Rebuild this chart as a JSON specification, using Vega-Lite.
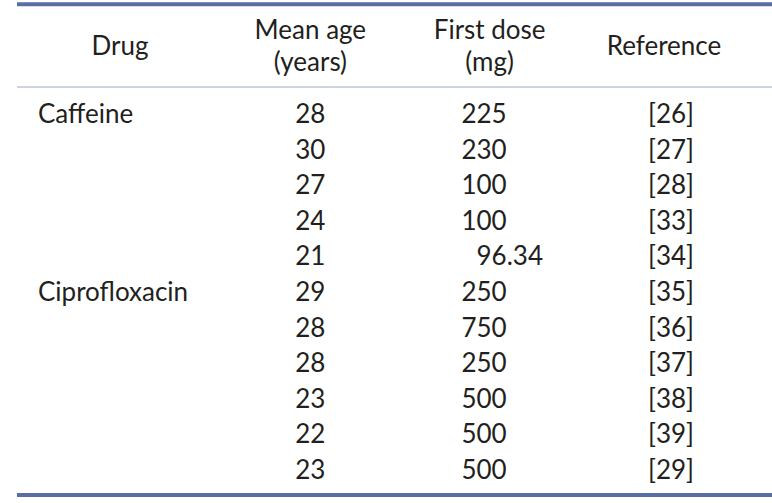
{
  "$schema": "https://vega.github.io/schema/vega-lite/v6.json",
  "width": 755,
  "height": 503,
  "autosize": {"type": "none"},
  "padding": {"left": 17, "right": 0, "top": 0, "bottom": 0},
  "background": "white",
  "config": {
    "view": {"stroke": null},
    "text": {"font": "Lato", "fontSize": 26, "color": "#231f20", "baseline": "middle"}
  },
  "data": {
    "values": [
      {"order": 1, "drug": "Caffeine", "age": "28", "dose": "225", "ref": "[26]"},
      {"order": 2, "drug": "Caffeine", "age": "30", "dose": "230", "ref": "[27]"},
      {"order": 3, "drug": "Caffeine", "age": "27", "dose": "100", "ref": "[28]"},
      {"order": 4, "drug": "Caffeine", "age": "24", "dose": "100", "ref": "[33]"},
      {"order": 5, "drug": "Caffeine", "age": "21", "dose": "96.34", "ref": "[34]"},
      {"order": 6, "drug": "Ciprofloxacin", "age": "29", "dose": "250", "ref": "[35]"},
      {"order": 7, "drug": "Ciprofloxacin", "age": "28", "dose": "750", "ref": "[36]"},
      {"order": 8, "drug": "Ciprofloxacin", "age": "28", "dose": "250", "ref": "[37]"},
      {"order": 9, "drug": "Ciprofloxacin", "age": "23", "dose": "500", "ref": "[38]"},
      {"order": 10, "drug": "Ciprofloxacin", "age": "22", "dose": "500", "ref": "[39]"},
      {"order": 11, "drug": "Ciprofloxacin", "age": "23", "dose": "500", "ref": "[29]"}
    ]
  },
  "resolve": {"scale": {"x": "shared", "y": "shared"}},
  "layer": [
    {
      "data": {"values": [{}]},
      "mark": {"type": "rule", "stroke": "#5a6ea6", "strokeWidth": 4},
      "encoding": {
        "y": {"datum": -2.11, "type": "quantitative", "scale": {"domain": [-2.23, 11.9], "reverse": true, "nice": false, "zero": false}, "axis": null}
      }
    },
    {
      "data": {"values": [{}]},
      "mark": {"type": "rule", "stroke": "#9ea8c9", "strokeWidth": 1.2},
      "encoding": {"y": {"datum": 0.2135, "type": "quantitative"}}
    },
    {
      "data": {"values": [{}]},
      "mark": {"type": "rule", "stroke": "#5a6ea6", "strokeWidth": 4},
      "encoding": {"y": {"datum": 11.674, "type": "quantitative"}}
    },
    {
      "data": {"values": [{}]},
      "mark": {"type": "text", "align": "center"},
      "encoding": {
        "x": {"datum": "Drug", "type": "nominal", "scale": {"type": "point", "domain": ["Drug", "Mean age", "First dose", "Reference"], "range": [103, 647], "padding": 0}, "axis": null},
        "y": {"datum": -0.91, "type": "quantitative"},
        "text": {"value": "Drug"}
      }
    },
    {
      "data": {"values": [{}]},
      "mark": {"type": "text", "align": "center", "lineBreak": "\n", "lineHeight": 32, "dx": 9},
      "encoding": {
        "x": {"datum": "Mean age", "type": "nominal"},
        "y": {"datum": -1.36, "type": "quantitative"},
        "text": {"value": "Mean age\n(years)"}
      }
    },
    {
      "data": {"values": [{}]},
      "mark": {"type": "text", "align": "center", "lineBreak": "\n", "lineHeight": 32, "dx": 7},
      "encoding": {
        "x": {"datum": "First dose", "type": "nominal"},
        "y": {"datum": -1.36, "type": "quantitative"},
        "text": {"value": "First dose\n(mg)"}
      }
    },
    {
      "data": {"values": [{}]},
      "mark": {"type": "text", "align": "center"},
      "encoding": {
        "x": {"datum": "Reference", "type": "nominal"},
        "y": {"datum": -0.91, "type": "quantitative"},
        "text": {"value": "Reference"}
      }
    },
    {
      "transform": [{"aggregate": [{"op": "min", "field": "order", "as": "order"}], "groupby": ["drug"]}],
      "mark": {"type": "text", "align": "left", "dx": -82},
      "encoding": {
        "x": {"datum": "Drug", "type": "nominal"},
        "y": {"field": "order", "type": "quantitative"},
        "text": {"field": "drug", "type": "nominal"}
      }
    },
    {
      "mark": {"type": "text", "align": "center", "dx": 9},
      "encoding": {
        "x": {"datum": "Mean age", "type": "nominal"},
        "y": {"field": "order", "type": "quantitative"},
        "text": {"field": "age", "type": "nominal"}
      }
    },
    {
      "transform": [{"calculate": "split(datum.dose, '.')[0]", "as": "doseInt"}],
      "mark": {"type": "text", "align": "right", "dx": 24},
      "encoding": {
        "x": {"datum": "First dose", "type": "nominal"},
        "y": {"field": "order", "type": "quantitative"},
        "text": {"field": "doseInt", "type": "nominal"}
      }
    },
    {
      "transform": [
        {"filter": "indexof(datum.dose, '.') >= 0"},
        {"calculate": "'.' + split(datum.dose, '.')[1]", "as": "doseFrac"}
      ],
      "mark": {"type": "text", "align": "left", "dx": 24},
      "encoding": {
        "x": {"datum": "First dose", "type": "nominal"},
        "y": {"field": "order", "type": "quantitative"},
        "text": {"field": "doseFrac", "type": "nominal"}
      }
    },
    {
      "mark": {"type": "text", "align": "center", "dx": 7},
      "encoding": {
        "x": {"datum": "Reference", "type": "nominal"},
        "y": {"field": "order", "type": "quantitative"},
        "text": {"field": "ref", "type": "nominal"}
      }
    }
  ]
}
